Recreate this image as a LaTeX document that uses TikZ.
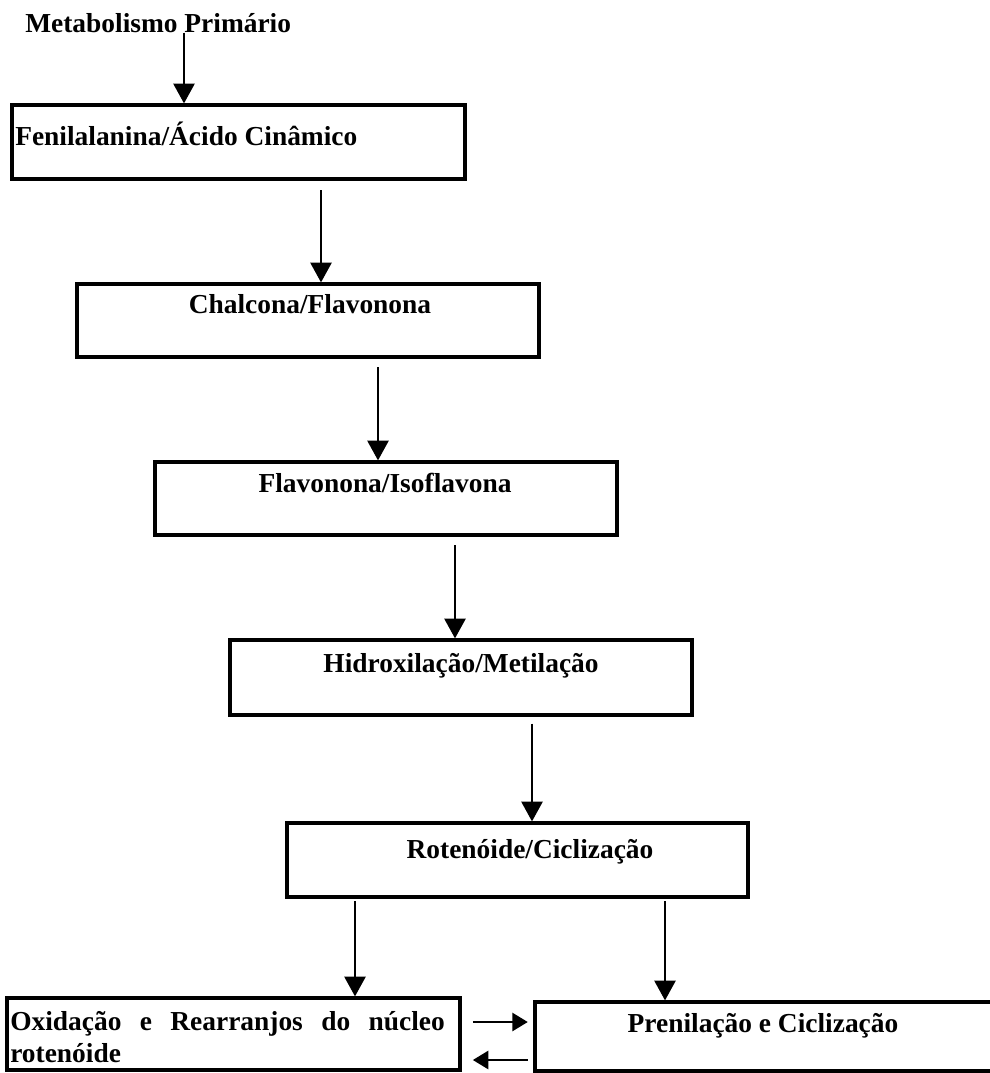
\documentclass[tikz,border=0pt]{standalone}
\usepackage{fontspec}
\setmainfont{Liberation Serif}
\usetikzlibrary{arrows.meta,fit}
\tikzset{
  boxst/.style={draw, line width=2.3pt, inner sep=0pt, rectangle},
  txt/.style={inner sep=0pt, font=\bfseries\fontsize{19.5}{22.8}\selectfont},
  arr/.style={line width=1.4pt, -{Triangle[width=15pt,length=14pt]}},
  harr/.style={line width=1.4pt, -{Triangle[width=13pt,length=11pt]}}
}
\begin{document}
\begin{tikzpicture}[x=0.025cm,y=-0.025cm]
\useasboundingbox (0,0) rectangle (990,1073);
\clip (0,0) rectangle (990,1073);
% title
\node[txt, anchor=base west] (m) at (25,32) {Metabolismo Primário};
% boxes
\node[boxst, fit={(12,105) (465,179)}] (b1) {};
\node[boxst, fit={(77,284) (539,357)}] (b2) {};
\node[boxst, fit={(155,462) (617,535)}] (b3) {};
\node[boxst, fit={(230,640) (692,715)}] (b4) {};
\node[boxst, fit={(287,823) (748,897)}] (b5) {};
\node[boxst, fit={(7,998) (460,1070)}] (b6) {};
\node[boxst, fit={(535,1002) (1010,1071)}] (b7) {};
% texts
\node[txt, anchor=base west] (t1) at (15,145) {Fenilalanina/Ácido Cinâmico};
\node[txt, anchor=base] (t2) at (310,313) {Chalcona/Flavonona};
\node[txt, anchor=base] (t3) at (385,492) {Flavonona/Isoflavona};
\node[txt, anchor=base] (t4) at (461,672) {Hidroxilação/Metilação};
\node[txt, anchor=base] (t5) at (530,858) {Rotenóide/Ciclização};
\node[txt, anchor=base west, text width=309pt, align=left] (t6) at (10,1030)
  {\hbox to 309pt{Oxidação\hfill e\hfill Rearranjos\hfill do\hfill núcleo}\\rotenóide};
\node[txt, anchor=base] (t7) at (763,1032) {Prenilação e Ciclização};
% arrow x positions
\coordinate (x1) at (184,0);
\coordinate (x2) at (321,0);
\coordinate (x3) at (378,0);
\coordinate (x4) at (455,0);
\coordinate (x5) at (532,0);
\coordinate (x6) at (355,0);
\coordinate (x7) at (665,0);
\coordinate (yr) at (0,1022);
\coordinate (yl) at (0,1060);
% connectors
\draw[arr] (x1 |- m.south) -- (x1 |- b1.north);
\draw[arr, shorten <=7pt] (x2 |- b1.south) -- (x2 |- b2.north);
\draw[arr, shorten <=6pt] (x3 |- b2.south) -- (x3 |- b3.north);
\draw[arr, shorten <=6pt] (x4 |- b3.south) -- (x4 |- b4.north);
\draw[arr, shorten <=5pt] (x5 |- b4.south) -- (x5 |- b5.north);
\draw[arr, shorten <=2pt] (x6 |- b5.south) -- (x6 |- b6.north);
\draw[arr, shorten <=2pt] (x7 |- b5.south) -- (x7 |- b7.north);
\draw[harr, shorten <=8pt, shorten >=4pt] (b6.east |- yr) -- (b7.west |- yr);
\draw[harr, shorten <=4pt, shorten >=8pt] (b7.west |- yl) -- (b6.east |- yl);
\end{tikzpicture}
\end{document}
